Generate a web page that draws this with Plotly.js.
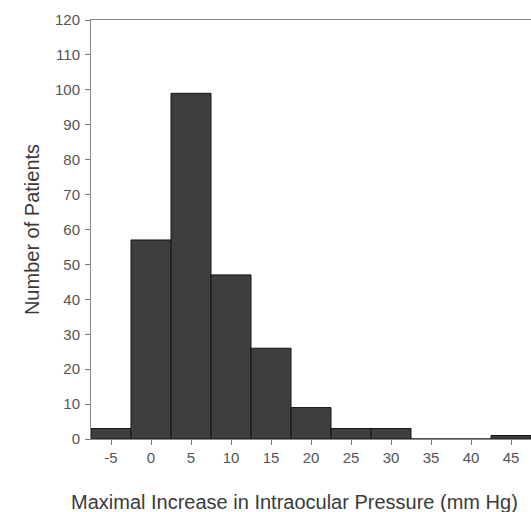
<!DOCTYPE html>
<html>
<head>
<meta charset="utf-8">
<script src="https://cdn.plot.ly/plotly-3.0.1.min.js"></script>
<style>html,body{margin:0;padding:0;background:#fff;}#chart{width:531px;height:512px;}</style>
</head>
<body>
<div id="chart"></div>
<script>
var binCenters = [-5, 0, 5, 10, 15, 20, 25, 30, 35, 40, 45];
var patientCounts = [3, 57, 99, 47, 26, 9, 3, 3, 0, 0, 1];
var xTickVals = [-5, 0, 5, 10, 15, 20, 25, 30, 35, 40, 45];
var yTickVals = [0, 10, 20, 30, 40, 50, 60, 70, 80, 90, 100, 110, 120];
var xTitle = 'Maximal Increase in Intraocular Pressure (mm Hg)';
var yTitle = 'Number of Patients';

var trace = {
  type: 'bar',
  x: binCenters,
  y: patientCounts,
  width: 5,
  marker: {color: '#3e3e3e', line: {color: '#151515', width: 1}},
  hoverinfo: 'x+y'
};

var layout = {
  width: 531,
  height: 512,
  margin: {l: 91, r: 0, t: 20, b: 73},
  paper_bgcolor: '#ffffff',
  plot_bgcolor: '#ffffff',
  showlegend: false,
  bargap: 0,
  font: {family: 'Liberation Sans, Arial, sans-serif', color: '#555555', size: 15},
  xaxis: {
    range: [-7.5, 47.5],
    tickvals: xTickVals,
    ticktext: xTickVals.map(String),
    ticks: 'outside',
    ticklen: 5,
    tickcolor: '#777777',
    showline: true,
    linecolor: '#8a8a8a',
    linewidth: 1,
    mirror: true,
    showgrid: false,
    zeroline: false,
    automargin: false,
    tickfont: {size: 15, color: '#555555'}
  },
  yaxis: {
    range: [0, 120],
    tickvals: yTickVals,
    ticks: 'outside',
    ticklen: 5,
    tickcolor: '#777777',
    ticklabelstandoff: 2,
    showline: true,
    linecolor: '#8a8a8a',
    linewidth: 1,
    showgrid: false,
    zeroline: false,
    automargin: false,
    tickfont: {size: 15, color: '#555555'},
    title: {text: yTitle, font: {size: 20, color: '#3a3a3a'}, standoff: 9}
  },
  annotations: [{
    text: xTitle,
    xref: 'paper', yref: 'paper',
    x: (294 - 91) / 440, y: -63 / 419,
    xanchor: 'center', yanchor: 'middle',
    showarrow: false,
    font: {size: 20, color: '#3a3a3a'}
  }]
};

Plotly.newPlot('chart', [trace], layout, {displayModeBar: false, staticPlot: true});
</script>
</body>
</html>
